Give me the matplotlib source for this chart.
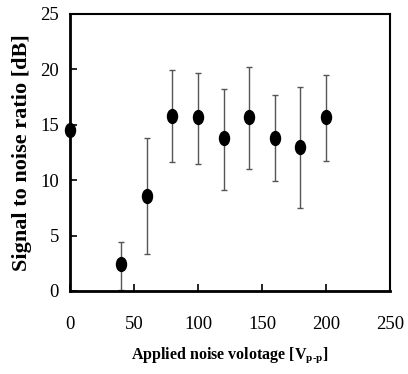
import matplotlib
matplotlib.use("Agg")
import matplotlib.pyplot as plt
from matplotlib.markers import MarkerStyle
from matplotlib.transforms import Affine2D

# --- Data ---
voltage = [0, 40, 60, 80, 100, 120, 140, 160, 180, 200]
snr = [14.5, 2.4, 8.6, 15.8, 15.7, 13.8, 15.7, 13.8, 13.0, 15.7]
err_upper = [14.5, 4.4, 13.8, 19.9, 19.7, 18.2, 20.2, 17.7, 18.4, 19.5]
err_lower = [14.5, 0.1, 3.3, 11.6, 11.5, 9.1, 11.0, 9.9, 7.5, 11.7]

yerr = [[s - lo for s, lo in zip(snr, err_lower)],
        [hi - s for s, hi in zip(snr, err_upper)]]

plt.rcParams["font.family"] = "Liberation Serif"
plt.rcParams["mathtext.fontset"] = "custom"
plt.rcParams["mathtext.rm"] = "Liberation Serif:bold"
plt.rcParams["mathtext.it"] = "Liberation Serif:bold"

fig = plt.figure(figsize=(4.08, 3.74), dpi=100)
ax = fig.add_axes([0.1716, 0.222, 0.7844, 0.7406])

marker = MarkerStyle("o", transform=Affine2D().scale(0.72, 1.0))
ax.errorbar(voltage, snr, yerr=yerr, fmt="none", ecolor="#555555",
            elinewidth=1.0, capsize=2.5, capthick=1.0, zorder=2)
ax.plot(voltage, snr, linestyle="none", marker=marker, markersize=10,
        color="black", clip_on=False, zorder=3)

ax.set_xlim(0, 250)
ax.set_ylim(0, 25)
ax.set_xticks(range(0, 251, 50))
ax.set_yticks(range(0, 26, 5))
ax.tick_params(direction="in", length=5, width=1.2, labelsize=13.5)
ax.tick_params(axis="x", pad=18)
ax.tick_params(axis="y", pad=8)

for side in ["left", "bottom"]:
    ax.spines[side].set_linewidth(2.0)
for side in ["top", "right"]:
    ax.spines[side].set_linewidth(1.5)

ax.set_xlabel(r"Applied noise volotage [V$_{\rm p\text{-}p}$]",
              fontsize=11.5, fontweight="bold", labelpad=9)
ax.set_ylabel("Signal to noise ratio [dB]", fontsize=16,
              fontweight="bold", labelpad=6)

fig.savefig("out.png", dpi=100)
